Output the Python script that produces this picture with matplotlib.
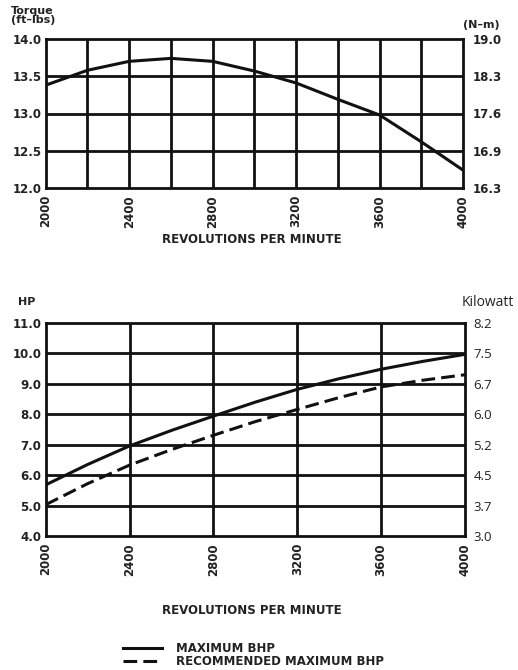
import matplotlib
matplotlib.use("Agg")
import matplotlib.pyplot as plt

# ---- data ----
rpm_torque = [2000, 2200, 2400, 2600, 2800, 3000, 3200, 3400, 3600, 3800, 4000]
torque_ftlbs = [13.38, 13.58, 13.70, 13.74, 13.70, 13.57, 13.41, 13.19, 12.98, 12.62, 12.24]
torque_ticks = [12.0, 12.5, 13.0, 13.5, 14.0]
torque_ticklabels = ["12.0", "12.5", "13.0", "13.5", "14.0"]
nm_ticklabels = ["16.3", "16.9", "17.6", "18.3", "19.0"]

rpm_power = [2000, 2200, 2400, 2600, 2800, 3000, 3200, 3400, 3600, 3800, 4000]
max_bhp = [5.68, 6.35, 6.96, 7.47, 7.94, 8.40, 8.82, 9.17, 9.48, 9.74, 9.97]
rec_bhp = [5.03, 5.72, 6.33, 6.84, 7.31, 7.76, 8.16, 8.55, 8.90, 9.12, 9.30]
hp_ticks = [4.0, 5.0, 6.0, 7.0, 8.0, 9.0, 10.0, 11.0]
hp_ticklabels = ["4.0", "5.0", "6.0", "7.0", "8.0", "9.0", "10.0", "11.0"]
kw_ticklabels = ["3.0", "3.7", "4.5", "5.2", "6.0", "6.7", "7.5", "8.2"]

rpm_ticks = [2000, 2400, 2800, 3200, 3600, 4000]
rpm_ticklabels = ["2000", "2400", "2800", "3200", "3600", "4000"]
rpm_grid_top = [2200, 2400, 2600, 2800, 3000, 3200, 3400, 3600, 3800]
rpm_grid_bottom = [2400, 2800, 3200, 3600]

xlabel = "REVOLUTIONS PER MINUTE"
legend_labels = ["MAXIMUM BHP", "RECOMMENDED MAXIMUM BHP"]

BOLD = ['DejaVu Sans']
KWFONT = ['Open Sans', 'DejaVu Sans']
plt.rcParams['font.family'] = BOLD
TXT = '#222222'

W, H = 518, 670
fig = plt.figure(figsize=(W / 100, H / 100), dpi=100)

def box(x0, y0, x1, y1):
    return [x0 / W, 1 - y1 / H, (x1 - x0) / W, (y1 - y0) / H]

GRID_LW = 2.0
TICK_FS = 8.5

def style_axis(ax, ymin, ymax, yticks, yticklabels, vgrid, hgrid):
    ax.set_xlim(2000, 4000)
    ax.set_ylim(ymin, ymax)
    for s in ax.spines.values():
        s.set_linewidth(GRID_LW)
        s.set_color('#111111')
    for x in vgrid:
        ax.axvline(x, color='#111111', lw=GRID_LW, zorder=1)
    for y in hgrid:
        ax.axhline(y, color='#111111', lw=GRID_LW, zorder=1)
    ax.set_xticks(rpm_ticks)
    ax.set_xticklabels(rpm_ticklabels, rotation=90, fontsize=TICK_FS, fontweight='bold', color=TXT)
    ax.set_yticks(yticks)
    ax.set_yticklabels(yticklabels, fontsize=TICK_FS, fontweight='bold', color=TXT)
    ax.tick_params(axis='both', length=0, pad=3)
    ax.tick_params(axis='x', pad=5)

# ---- top torque chart ----
ax1 = fig.add_axes(box(45.7, 39, 463, 188))
style_axis(ax1, 12.0, 14.0, torque_ticks, torque_ticklabels, rpm_grid_top, [12.5, 13.0, 13.5])
ax1.plot(rpm_torque, torque_ftlbs, color='#111111', lw=2.2, zorder=3)
ax1r = ax1.twinx()
ax1r.set_ylim(12.0, 14.0)
ax1r.set_yticks(torque_ticks)
ax1r.set_yticklabels(nm_ticklabels, fontsize=TICK_FS, fontweight='bold', color=TXT)
ax1r.tick_params(axis='y', length=0, pad=7)
for s in ax1r.spines.values():
    s.set_visible(False)

fig.text(11 / W, 1 - 6 / H, "Torque\n(ft\u2013lbs)", fontsize=8, fontweight='bold',
         va='top', ha='left', linespacing=0.9, color=TXT)
fig.text(463 / W, 1 - 25 / H, "(N\u2013m)", fontsize=8, fontweight='bold',
         va='center', ha='left', color=TXT)
fig.text(252 / W, 1 - 240 / H, xlabel, fontsize=8.5, fontweight='bold',
         ha='center', va='center', color=TXT)

# ---- bottom power chart ----
ax2 = fig.add_axes(box(45.7, 323, 465, 536))
style_axis(ax2, 4.0, 11.0, hp_ticks, hp_ticklabels, rpm_grid_bottom, hp_ticks[1:-1])
l1, = ax2.plot(rpm_power, max_bhp, color='#111111', lw=2.2, zorder=3)
l2, = ax2.plot(rpm_power, rec_bhp, color='#111111', lw=2.2, dashes=(4.5, 2), zorder=3)
ax2r = ax2.twinx()
ax2r.set_ylim(4.0, 11.0)
ax2r.set_yticks(hp_ticks)
ax2r.set_yticklabels(kw_ticklabels, fontsize=9.5, family=KWFONT, color=TXT)
ax2r.tick_params(axis='y', length=0, pad=6)
for s in ax2r.spines.values():
    s.set_visible(False)

fig.text(18 / W, 1 - 302 / H, "HP", fontsize=8, fontweight='bold',
         va='center', ha='left', color=TXT)
fig.text(462 / W, 1 - 303 / H, "Kilowatt", fontsize=10, family=KWFONT,
         va='center', ha='left', color=TXT)
fig.text(252 / W, 1 - 610 / H, xlabel, fontsize=8.5, fontweight='bold',
         ha='center', va='center', color=TXT)

# legend
leg = fig.legend([l1, l2], legend_labels, loc='upper left',
                 bbox_to_anchor=(118 / W, 1 - 637 / H), frameon=False,
                 prop={'size': 8.5, 'weight': 'bold'}, handlelength=3.3,
                 handletextpad=1.2, labelspacing=0.0, borderaxespad=0)
for t in leg.get_texts():
    t.set_color(TXT)

fig.savefig("out.png", dpi=100)
